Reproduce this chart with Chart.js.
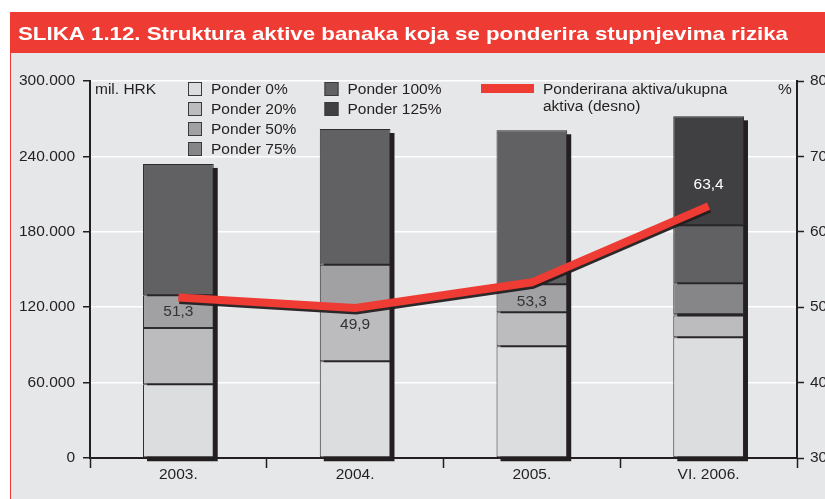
<!DOCTYPE html>
<html><head><meta charset="utf-8">
<script src="https://cdn.jsdelivr.net/npm/chart.js@4.4.1/dist/chart.umd.min.js"></script>
<style>html,body{margin:0;padding:0;background:#fff;}#wrap{width:825px;height:499px;position:relative;}</style>
</head><body><div id="wrap"><canvas id="c" width="825" height="499"></canvas></div>
<script>
// ---- data ----
const titleText = 'SLIKA 1.12. Struktura aktive banaka koja se ponderira stupnjevima rizika';
const unitLeft = 'mil. HRK';
const unitRight = '%';
const categories = ['2003.', '2004.', '2005.', 'VI. 2006.'];
const seriesLabels = ['Ponder 0%', 'Ponder 20%', 'Ponder 50%', 'Ponder 75%', 'Ponder 100%', 'Ponder 125%'];
const ponder0 = [58600, 77000, 88900, 96000];
const ponder20 = [44800, 44700, 27000, 17300];
const ponder50 = [26100, 32100, 22300, 1000];
const ponder75 = [0, 0, 0, 24700];
const ponder100 = [104500, 108000, 122600, 46200];
const ponder125 = [0, 0, 0, 86700];
const ratioLabelLines = ['Ponderirana aktiva/ukupna', 'aktiva (desno)'];
const ratio = [51.3, 49.9, 53.3, 63.4];
const leftTicks = [0, 60000, 120000, 180000, 240000, 300000];
const rightTicks = [30, 40, 50, 60, 70, 80];

// ---- styles ----
const FONT = '"Liberation Sans", Arial, Helvetica, sans-serif';
const INK = '#231f20';
const RED = '#ee3b33';
const barColors = ['#dcdddf', '#bcbcbe', '#a1a1a3', '#868688', '#616163', '#403f41'];
const barValues = [ponder0, ponder20, ponder50, ponder75, ponder100, ponder125];

function fmtThousands(v) { return String(v).replace(/\B(?=(\d{3})+(?!\d))/g, '.'); }

const frame = {
  id: 'frame',
  beforeDraw(chart) {
    const ctx = chart.ctx;
    ctx.save();
    ctx.fillStyle = '#ffffff';
    ctx.fillRect(0, 0, chart.width, chart.height);
    ctx.fillStyle = '#e6e7e8';
    ctx.fillRect(10, 53, chart.width - 10, chart.height - 53);
    ctx.fillStyle = RED;
    ctx.fillRect(10, 12, chart.width - 10, 41);
    ctx.fillRect(10, 53, 1, chart.height - 53);
    // title
    ctx.font = 'bold 18.5px ' + FONT;
    ctx.fillStyle = '#ffffff';
    ctx.textBaseline = 'alphabetic';
    ctx.textAlign = 'left';
    const w = ctx.measureText(titleText).width;
    const sx = 770 / w;
    ctx.translate(18, 39.5);
    ctx.scale(sx, 1);
    ctx.fillText(titleText, 0, 0);
    ctx.restore();
  }
};

const barShadow = {
  id: 'barShadow',
  beforeDatasetsDraw(chart) {
    const ctx = chart.ctx;
    const n = chart.data.labels.length;
    ctx.save();
    ctx.fillStyle = INK;
    for (let i = 0; i < n; i++) {
      let top = Infinity, bottom = -Infinity, left = null, right = null;
      chart.data.datasets.forEach((ds, di) => {
        if (ds.type === 'line') return;
        const el = chart.getDatasetMeta(di).data[i];
        if (!el) return;
        const p = el.getProps(['x', 'y', 'base', 'width'], true);
        top = Math.min(top, p.y, p.base);
        bottom = Math.max(bottom, p.y, p.base);
        left = p.x - p.width / 2; right = p.x + p.width / 2;
      });
      if (left !== null) ctx.fillRect(left + 4, top + 4, right - left, bottom - top);
    }
    ctx.restore();
  }
};

const lineShadow = {
  id: 'lineShadow',
  beforeDatasetDraw(chart, args) {
    if (chart.data.datasets[args.index].type === 'line') {
      const c = chart.ctx;
      c.save();
      c.shadowColor = 'rgba(35,31,32,0.95)';
      c.shadowOffsetX = 1;
      c.shadowOffsetY = 2.5;
      c.shadowBlur = 0;
    }
  },
  afterDatasetDraw(chart, args) {
    if (chart.data.datasets[args.index].type === 'line') chart.ctx.restore();
  }
};

const valueLabels = {
  id: 'valueLabels',
  afterDatasetsDraw(chart, args, opts) {
    const ctx = chart.ctx;
    const meta = chart.getDatasetMeta(0);
    ctx.save();
    ctx.font = '15.5px ' + FONT;
    ctx.textAlign = 'center';
    ctx.textBaseline = 'middle';
    meta.data.forEach((pt, i) => {
      const v = chart.data.datasets[0].data[i];
      ctx.fillStyle = opts.colors[i];
      ctx.fillText(v.toFixed(1).replace('.', ','), pt.x, pt.y + opts.offsets[i]);
    });
    ctx.restore();
  }
};

const customLegend = {
  id: 'customLegend',
  afterDraw(chart) {
    const ctx = chart.ctx;
    ctx.save();
    ctx.font = '15.5px ' + FONT;
    ctx.textBaseline = 'middle';
    ctx.textAlign = 'left';
    const bars = chart.data.datasets.filter(d => d.type !== 'line');
    bars.forEach((ds, i) => {
      const col = i < 4 ? 0 : 1;
      const row = i < 4 ? i : i - 4;
      const bx = col === 0 ? 188 : 324.5;
      const by = 82 + row * 20;
      ctx.fillStyle = ds.backgroundColor;
      ctx.fillRect(bx, by, 14, 14);
      ctx.strokeStyle = '#3a3a3c';
      ctx.lineWidth = 1;
      ctx.strokeRect(bx + 0.5, by + 0.5, 13, 13);
      ctx.fillStyle = INK;
      ctx.fillText(ds.label, bx + 23, by + 7.5);
    });
    const line = chart.data.datasets.find(d => d.type === 'line');
    ctx.fillStyle = line.borderColor;
    ctx.fillRect(481, 84, 53, 9);
    ctx.fillStyle = INK;
    ratioLabelLines.forEach((t, k) => ctx.fillText(t, 543, 89.5 + k * 17.5));
    ctx.fillText(unitLeft, 95, 90);
    ctx.fillText(unitRight, 778, 90);
    ctx.restore();
  }
};

const datasets = [{
  type: 'line',
  label: ratioLabelLines.join(' '),
  data: ratio,
  yAxisID: 'y1',
  borderColor: RED,
  backgroundColor: RED,
  borderWidth: 8,
  pointRadius: 0,
  tension: 0,
  borderCapStyle: 'butt',
  borderJoinStyle: 'miter',
  clip: false,
  order: 0
}];
seriesLabels.forEach((lab, i) => {
  datasets.push({
    type: 'bar',
    label: lab,
    data: barValues[i],
    yAxisID: 'y',
    backgroundColor: barColors[i],
    borderColor: '#2e2b2d',
    borderWidth: 1,
    borderSkipped: false,
    barPercentage: 0.4,
    categoryPercentage: 1,
    stack: 's',
    order: 1
  });
});

new Chart(document.getElementById('c'), {
  data: { labels: categories, datasets },
  plugins: [frame, barShadow, lineShadow, valueLabels, customLegend],
  options: {
    responsive: false,
    animation: false,
    devicePixelRatio: 1,
    layout: { padding: { left: 10, right: 0, top: 81, bottom: 11 } },
    plugins: {
      legend: { display: false },
      tooltip: { enabled: false },
      title: { display: false },
      valueLabels: { offsets: [14, 17, 19, -21], colors: ['#333335', '#333335', '#333335', '#ffffff'] }
    },
    scales: {
      x: {
        stacked: true,
        offset: true,
        afterFit: s => { s.height = 30; },
        grid: { drawOnChartArea: false, tickLength: 10, tickColor: INK, tickWidth: 1.5, offset: true },
        border: { color: INK, width: 2 },
        ticks: { color: INK, font: { family: FONT, size: 15.5 }, padding: -3, maxRotation: 0 }
      },
      y: {
        stacked: true,
        position: 'left',
        min: 0, max: 300000,
        afterBuildTicks: s => { s.ticks = leftTicks.map(v => ({ value: v })); },
        afterFit: s => { s.width = 80; },
        grid: { color: '#ffffff', lineWidth: 1.5, tickColor: INK, tickLength: 7, tickWidth: 1.5 },
        border: { color: INK, width: 2 },
        ticks: { color: INK, font: { family: FONT, size: 15.5 }, padding: 8, callback: v => fmtThousands(v) }
      },
      y1: {
        position: 'right',
        min: 30, max: 80,
        afterBuildTicks: s => { s.ticks = rightTicks.map(v => ({ value: v })); },
        afterFit: s => { s.width = 28; },
        grid: { drawOnChartArea: false, tickColor: INK, tickLength: 7, tickWidth: 1.5 },
        border: { color: INK, width: 2 },
        ticks: { color: INK, font: { family: FONT, size: 15.5 }, padding: 6 }
      }
    }
  }
});
</script>
</body></html>
